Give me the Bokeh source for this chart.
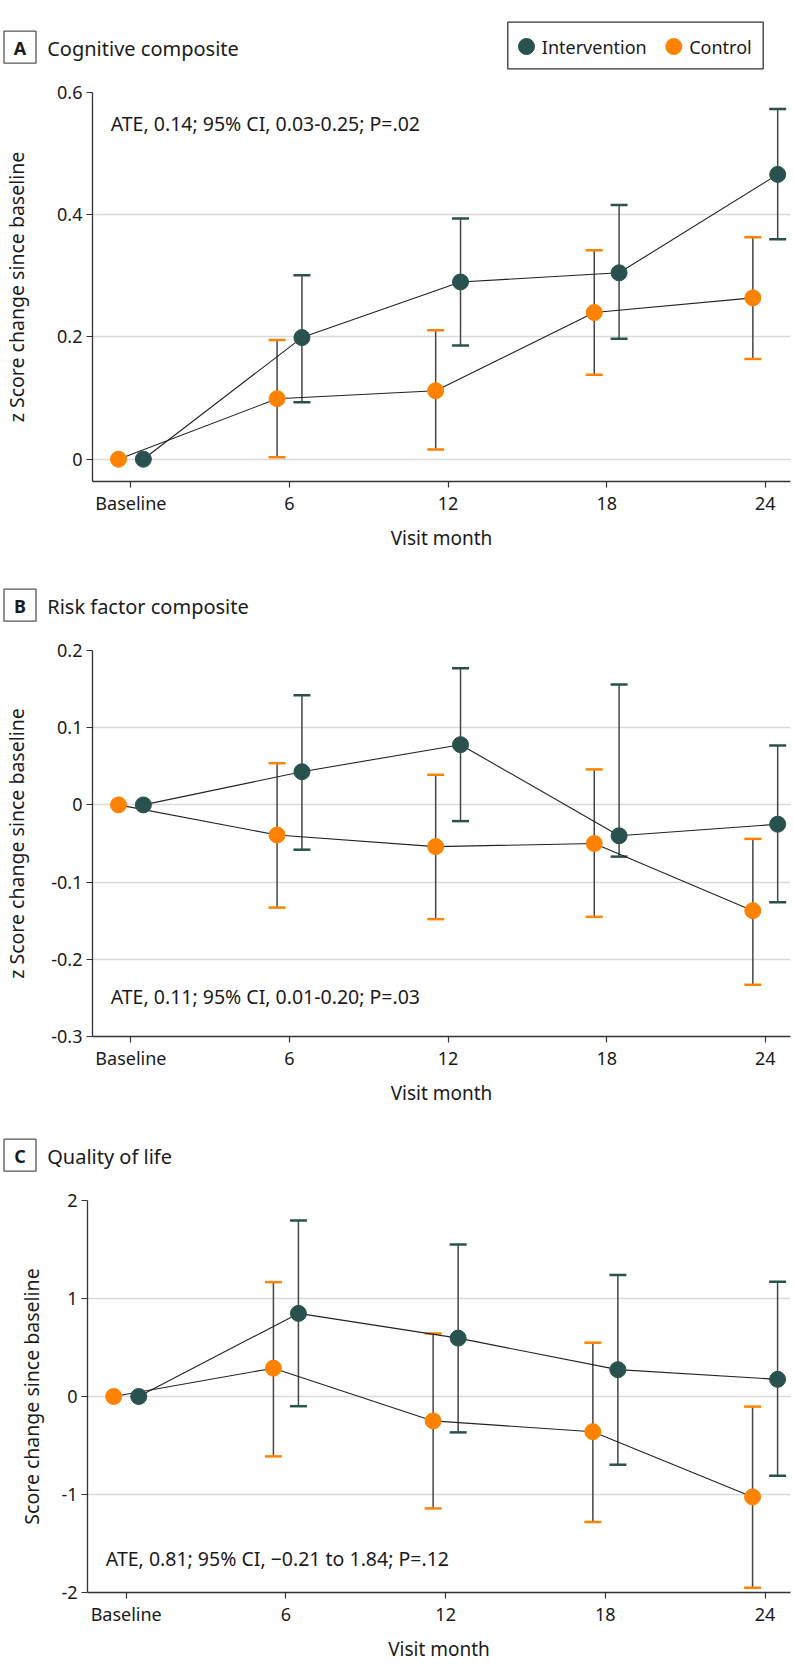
from bokeh.plotting import figure
from bokeh.layouts import column
from bokeh.models import (Range1d, ColumnDataSource, Whisker, TeeHead,
                          FixedTicker, PrintfTickFormatter)
from bokeh.transform import dodge
from bokeh.core.properties import value
from bokeh.embed import file_html
from bokeh.resources import INLINE

FONT = "Noto Sans"
TEAL = "#29524F"
ORANGE = "#FF8200"
TXT = "#1a1a1a"

# ---------------- data ----------------
months = [0, 6, 12, 18, 24]
month_labels = {0: "Baseline", 6: "6", 12: "12", 18: "18", 24: "24"}
series_names = ["Intervention", "Control"]

# Panel A: Cognitive composite
a_int_mean = [0.0, 0.199, 0.290, 0.305, 0.466]
a_int_lo = [None, 0.093, 0.186, 0.197, 0.360]
a_int_hi = [None, 0.301, 0.394, 0.416, 0.573]
a_ctl_mean = [0.0, 0.099, 0.112, 0.240, 0.264]
a_ctl_lo = [None, 0.003, 0.016, 0.138, 0.164]
a_ctl_hi = [None, 0.195, 0.211, 0.342, 0.363]
a_yticks = [0, 0.2, 0.4, 0.6]

# Panel B: Risk factor composite
b_int_mean = [0.0, 0.043, 0.078, -0.040, -0.025]
b_int_lo = [None, -0.058, -0.021, -0.067, -0.126]
b_int_hi = [None, 0.142, 0.177, 0.156, 0.077]
b_ctl_mean = [0.0, -0.039, -0.054, -0.050, -0.137]
b_ctl_lo = [None, -0.133, -0.148, -0.145, -0.233]
b_ctl_hi = [None, 0.054, 0.039, 0.046, -0.044]
b_yticks = [-0.3, -0.2, -0.1, 0, 0.1, 0.2]

# Panel C: Quality of life
c_int_mean = [0.0, 0.848, 0.596, 0.274, 0.175]
c_int_lo = [None, -0.099, -0.366, -0.696, -0.809]
c_int_hi = [None, 1.796, 1.551, 1.240, 1.170]
c_ctl_mean = [0.0, 0.289, -0.249, -0.359, -1.025]
c_ctl_lo = [None, -0.611, -1.142, -1.281, -1.951]
c_ctl_hi = [None, 1.167, 0.643, 0.549, -0.103]
c_yticks = [-2, -1, 0, 1, 2]

# ---------------- layout constants (pixels) ----------------
W = 794
HEAD_H = 76
BORDER_L = 87
BORDER_R = 4
BORDER_T = 16
PX_PER_MONTH = 26.62
X_START = -(125.7 - BORDER_L) / PX_PER_MONTH
X_END = X_START + (W - BORDER_L - BORDER_R) / PX_PER_MONTH

panels = [
    dict(letter="A", title="Cognitive composite",
         ylabel="z Score change since baseline",
         ate="ATE, 0.14; 95% CI, 0.03-0.25; P=.02",
         yr=(-0.0365, 0.6), yticks=a_yticks, fmt="%.1f",
         series=[(a_int_mean, a_int_lo, a_int_hi), (a_ctl_mean, a_ctl_lo, a_ctl_hi)],
         ate_px=358, ylab_standoff=24, legend=True, height=482, bottom=77),
    dict(letter="B", title="Risk factor composite",
         ylabel="z Score change since baseline",
         ate="ATE, 0.11; 95% CI, 0.01-0.20; P=.03",
         yr=(-0.3, 0.2), yticks=b_yticks, fmt="%.1f",
         series=[(b_int_mean, b_int_lo, b_int_hi), (b_ctl_mean, b_ctl_lo, b_ctl_hi)],
         ate_px=40, ylab_standoff=18, legend=False, height=474, bottom=70),
    dict(letter="C", title="Quality of life",
         ylabel="Score change since baseline",
         ate="ATE, 0.81; 95% CI, \u22120.21 to 1.84; P=.12",
         yr=(-2, 2), yticks=c_yticks, fmt="%d",
         series=[(c_int_mean, c_int_lo, c_int_hi), (c_ctl_mean, c_ctl_lo, c_ctl_hi)],
         ate_px=34, ylab_standoff=13, legend=False, height=494, bottom=86),
]

colors = [TEAL, ORANGE]
offsets = [0.47, -0.47]


def make_header(letter, title, legend):
    h = figure(width=W, height=HEAD_H, x_range=Range1d(0, W), y_range=Range1d(HEAD_H, 0),
               x_axis_type=None, y_axis_type=None, min_border=0, frame_align=False,
               toolbar_location=None, output_backend="svg", outline_line_color=None)
    h.quad(left=[3.5], right=[35.5], top=[30.7], bottom=[62.7],
           fill_color="white", line_color="#555555", line_width=1.3)
    h.text(x=[19.5], y=[47.2], text=[letter], text_align="center", text_baseline="middle",
           text_font=value(FONT), text_font_style="bold", text_font_size="18px", text_color=TXT)
    h.text(x=[46.7], y=[48], text=[title], text_align="left", text_baseline="middle",
           text_font=value(FONT), text_font_size="20px", text_color=TXT)
    if legend:
        h.quad(left=[507.3], right=[762.7], top=[21.7], bottom=[68.3],
               fill_color="white", line_color="#333333", line_width=1.3)
        lx = [526, 673.3]
        tx = [541.3, 688.7]
        for i, name in enumerate(series_names):
            h.scatter(x=[lx[i]], y=[46], size=16, fill_color=colors[i], line_color=colors[i])
            h.text(x=[tx[i]], y=[46.5], text=[name], text_align="left", text_baseline="middle",
                   text_font=value(FONT), text_font_size="18px", text_color=TXT)
    return h


def make_panel(cfg):
    frame_h = cfg["height"] - BORDER_T - cfg["bottom"]
    ylo, yhi = cfg["yr"]
    p = figure(width=W, height=cfg["height"],
               x_range=Range1d(X_START, X_END), y_range=Range1d(ylo, yhi),
               toolbar_location=None, output_backend="svg", frame_align=False,
               min_border_left=BORDER_L, min_border_right=BORDER_R, min_border_top=BORDER_T,
               min_border_bottom=cfg["bottom"], outline_line_color=None)
    p.xgrid.visible = False
    p.ygrid.grid_line_color = "#d9d9d9"
    p.ygrid.grid_line_width = 1.5
    p.yaxis.ticker = FixedTicker(ticks=cfg["yticks"])
    p.yaxis.formatter = PrintfTickFormatter(format=cfg["fmt"])
    p.yaxis.major_label_overrides = {0: "0"}
    p.xaxis.ticker = FixedTicker(ticks=months)
    p.xaxis.major_label_overrides = month_labels
    for ax in (p.xaxis, p.yaxis):
        ax.axis_line_color = "#333333"
        ax.axis_line_width = 1.3
        ax.major_tick_line_color = "#333333"
        ax.major_tick_line_width = 1.2
        ax.major_tick_out = 6
        ax.major_tick_in = 0
        ax.minor_tick_line_color = None
        ax.major_label_text_font = FONT
        ax.major_label_text_font_size = "18px"
        ax.major_label_text_color = TXT
        ax.axis_label_text_font = FONT
        ax.axis_label_text_font_style = "normal"
        ax.axis_label_text_color = TXT
    p.xaxis.axis_label = "Visit month"
    p.xaxis.axis_label_text_font_size = "19px"
    p.xaxis.major_label_standoff = 3
    p.xaxis.axis_label_standoff = 7
    p.yaxis.axis_label = cfg["ylabel"]
    p.yaxis.axis_label_text_font_size = "19.5px"
    p.yaxis.major_label_standoff = 4
    p.yaxis.axis_label_standoff = cfg["ylab_standoff"]

    for i, (mean, lo, hi) in enumerate(cfg["series"]):
        src = ColumnDataSource(dict(month=months, mean=mean))
        xs = dodge("month", offsets[i], range=p.x_range)
        keep = [k for k in range(len(months)) if lo[k] is not None]
        wsrc = ColumnDataSource(dict(month=[months[k] for k in keep],
                                     lo=[lo[k] for k in keep], hi=[hi[k] for k in keep]))
        w = Whisker(source=wsrc, base=dodge("month", offsets[i], range=p.x_range),
                    lower="lo", upper="hi", line_color="#454545", line_width=1.5,
                    upper_head=TeeHead(size=17, line_color=colors[i], line_width=2.5),
                    lower_head=TeeHead(size=17, line_color=colors[i], line_width=2.5),
                    level="underlay")
        p.add_layout(w)
        p.line(x=xs, y="mean", source=src, line_color="#222222", line_width=1.1)
    for i, (mean, lo, hi) in enumerate(cfg["series"]):
        src = ColumnDataSource(dict(month=months, mean=mean))
        xs = dodge("month", offsets[i], range=p.x_range)
        p.scatter(x=xs, y="mean", source=src, size=16, fill_color=colors[i],
                  line_color=colors[i])

    # ATE annotation, positioned in pixels from the frame's left / bottom edges
    ate_x = X_START + 18.3 / PX_PER_MONTH
    ate_y = ylo + cfg["ate_px"] / frame_h * (yhi - ylo)
    p.text(x=[ate_x], y=[ate_y], text=[cfg["ate"]], text_align="left", text_baseline="middle",
           text_font=value(FONT), text_font_size="19.5px", text_color=TXT)
    return p


children = []
for cfg in panels:
    children.append(make_header(cfg["letter"], cfg["title"], cfg["legend"]))
    children.append(make_panel(cfg))

layout = column(*children, spacing=0)
open("out.html", "w").write(file_html(layout, INLINE))
